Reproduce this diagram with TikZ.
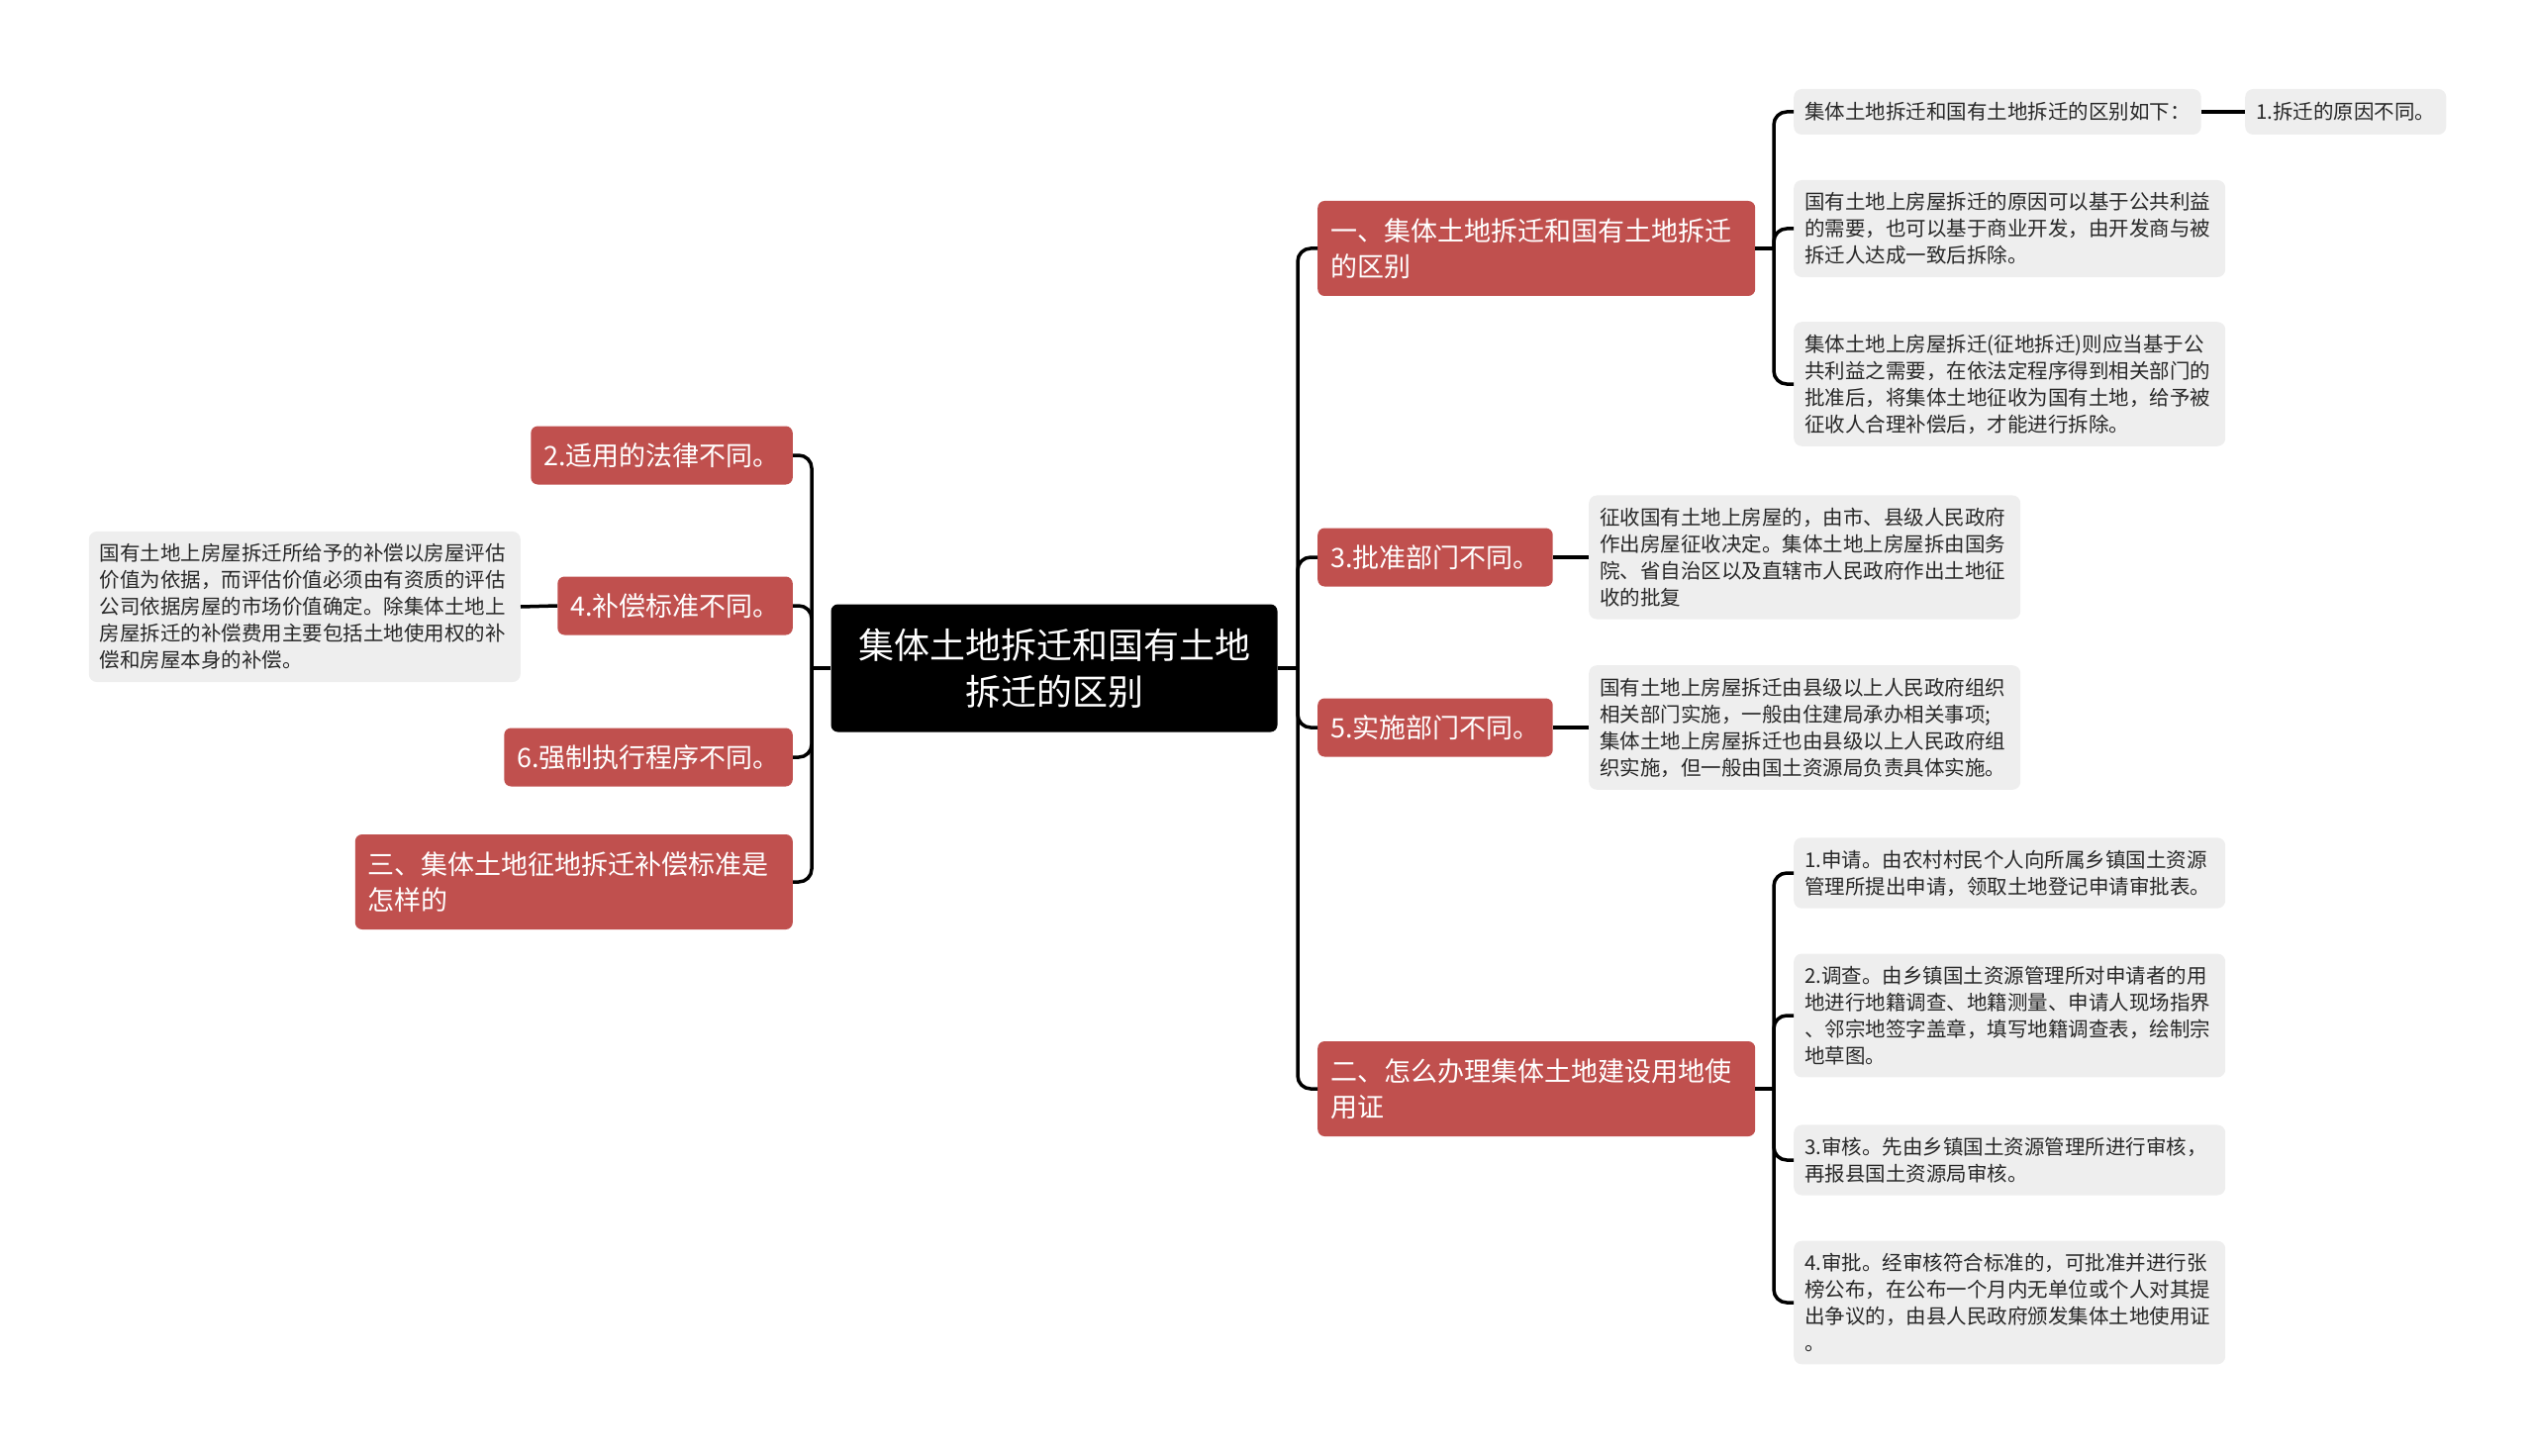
\documentclass[tikz,border=0pt]{standalone}
\usepackage{fontspec}
\setmainfont{Noto Sans CJK SC}
\usetikzlibrary{positioning,calc}
\definecolor{BranchRed}{RGB}{192,80,78}
\definecolor{LeafGrey}{RGB}{238,238,238}
\definecolor{LeafText}{RGB}{40,40,40}

\tikzset{
  rootbox/.style={fill=black,text=white,rounded corners=7pt,minimum width=451pt,minimum height=129pt,
    align=center,font=\fontsize{36}{47}\selectfont},
  branch/.style={fill=BranchRed,text=white,rounded corners=7pt,inner xsep=13pt,inner ysep=14pt,
    minimum height=59pt,align=left,font=\fontsize{27}{36}\selectfont},
  widebranch/.style={branch,text width=416pt,minimum height=96pt},
  leafbase/.style={fill=LeafGrey,text=LeafText,rounded corners=8pt,inner xsep=11pt,inner ysep=12.5pt,
    align=left,font=\fontsize{20.5}{27}\selectfont},
  leaf/.style={leafbase,text width=414pt},
  leafline/.style={leafbase,minimum height=46pt},
  link/.style={line width=3.5pt,rounded corners=13pt}
}

\begin{document}
\begin{tikzpicture}[x=1pt,y=-1pt]
  \useasboundingbox (0,0) rectangle (2560,1471);
  \node[rootbox] (root) at (1065,675) {集体土地拆迁和国有土地\\拆迁的区别};

  \node[widebranch,anchor=west] (d1) at (1331,251) {一、集体土地拆迁和国有土地拆迁\\的区别};
  \node[branch,anchor=west] (d3) at (1331,563) {3.批准部门不同。};
  \node[branch,anchor=west] (d5) at (1331,735) {5.实施部门不同。};
  \node[widebranch,anchor=west] (d2) at (1331,1100) {二、怎么办理集体土地建设用地使\\用证};

  \node[branch,anchor=east] (s2) at (801,460) {2.适用的法律不同。};
  \node[branch,anchor=east] (s4) at (801,612) {4.补偿标准不同。};
  \node[branch,anchor=east] (s6) at (801,765) {6.强制执行程序不同。};
  \node[widebranch,anchor=east] (s3) at (801,891) {三、集体土地征地拆迁补偿标准是\\怎样的};

  \node[leafline,anchor=west,minimum width=405pt] (q0) at (1812,113) {集体土地拆迁和国有土地拆迁的区别如下：};
  \node[leafline,anchor=west,minimum width=202pt] (q0a) at (2268,113) {1.拆迁的原因不同。};
  \node[leaf,anchor=west] (q1) at (1812,231) {国有土地上房屋拆迁的原因可以基于公共利益\\的需要，也可以基于商业开发，由开发商与被\\拆迁人达成一致后拆除。};
  \node[leaf,anchor=west] (q2) at (1812,388) {集体土地上房屋拆迁(征地拆迁)则应当基于公\\共利益之需要，在依法定程序得到相关部门的\\批准后，将集体土地征收为国有土地，给予被\\征收人合理补偿后，才能进行拆除。};
  \node[leaf,anchor=west] (q3) at (1605,563) {征收国有土地上房屋的，由市、县级人民政府\\作出房屋征收决定。集体土地上房屋拆由国务\\院、省自治区以及直辖市人民政府作出土地征\\收的批复};
  \node[leaf,anchor=west] (q5) at (1605,735) {国有土地上房屋拆迁由县级以上人民政府组织\\相关部门实施，一般由住建局承办相关事项;\\集体土地上房屋拆迁也由县级以上人民政府组\\织实施，但一般由国土资源局负责具体实施。};
  \node[leaf,anchor=west] (r1) at (1812,882) {1.申请。由农村村民个人向所属乡镇国土资源\\管理所提出申请，领取土地登记申请审批表。};
  \node[leaf,anchor=west] (r2) at (1812,1026) {2.调查。由乡镇国土资源管理所对申请者的用\\地进行地籍调查、地籍测量、申请人现场指界\\、邻宗地签字盖章，填写地籍调查表，绘制宗\\地草图。};
  \node[leaf,anchor=west] (r3) at (1812,1172) {3.审核。先由乡镇国土资源管理所进行审核，\\再报县国土资源局审核。};
  \node[leaf,anchor=west] (r4) at (1812,1316) {4.审批。经审核符合标准的，可批准并进行张\\榜公布，在公布一个月内无单位或个人对其提\\出争议的，由县人民政府颁发集体土地使用证\\。};
  \node[leaf,anchor=east] (p4) at (526,613) {国有土地上房屋拆迁所给予的补偿以房屋评估\\价值为依据，而评估价值必须由有资质的评估\\公司依据房屋的市场价值确定。除集体土地上\\房屋拆迁的补偿费用主要包括土地使用权的补\\偿和房屋本身的补偿。};

  \coordinate (rj) at (1311,675);
  \coordinate (lj) at (820,675);
  \coordinate (d1j) at (1792,251);
  \coordinate (d2j) at (1792,1100);
  \draw[link] (root.east) -- (rj);
  \draw[link] (root.west) -- (lj);
  \foreach \n in {d1,d3,d5,d2}
    \draw[link] (rj) |- (\n.west);
  \foreach \n in {s2,s4,s6,s3}
    \draw[link] (lj) |- (\n.east);
  \draw[link] (d1.east) -- (d1j);
  \foreach \n in {q0,q1,q2}
    \draw[link] (d1j) |- (\n.west);
  \draw[link] (d2.east) -- (d2j);
  \foreach \n in {r1,r2,r3,r4}
    \draw[link] (d2j) |- (\n.west);
  \draw[link] (q0.east) -- (q0a.west);
  \draw[link] (d3.east) -- (q3.west);
  \draw[link] (d5.east) -- (q5.west);
  \draw[link] (s4.west) -- (p4.east);
\end{tikzpicture}
\end{document}
